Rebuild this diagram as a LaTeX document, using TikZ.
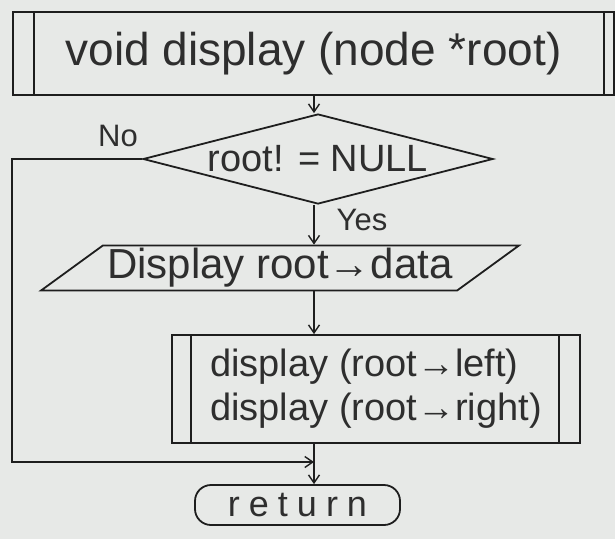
\documentclass[tikz,border=0pt]{standalone}
\usepackage{fontspec}
\setmainfont{Liberation Sans}
\usetikzlibrary{shapes.geometric,arrows.meta}
\definecolor{paper}{HTML}{E7E9E7}
\definecolor{ink}{HTML}{1E1E1E}
\definecolor{pencil}{HTML}{2E2E2E}
\begin{document}
\begin{tikzpicture}[x=1pt,y=-1pt,
  line width=1.8pt,
  every node/.style={text=pencil},
  flow/.style={draw=ink, line width=1.8pt},
  arr/.style={draw=ink, line width=1.6pt, -{Straight Barb[length=8pt,width=11pt,line width=1.4pt]}},
  procbox/.style={flow, rectangle, inner sep=0pt},
  decision/.style={flow, diamond, aspect=3.9, inner sep=0pt, minimum width=350, minimum height=90},
  iobox/.style={flow, trapezium, trapezium left angle=33, trapezium right angle=147,
      trapezium stretches=true, inner sep=0pt, minimum width=480, minimum height=45},
  term/.style={flow, rectangle, rounded corners=16pt, inner sep=0pt, minimum width=205, minimum height=40},
  lbl/.style={font=\fontsize{31}{36}\selectfont}
]
\useasboundingbox[fill=paper] (0,0) rectangle (615,539);

% top predefined process
\node[procbox, minimum width=601, minimum height=83, font=\fontsize{46}{52}\selectfont]
  (top) at (313.5,53.5) {void display (node *root)};
\draw[flow] ([xshift=22pt]top.north west) -- ([xshift=22pt]top.south west);
\draw[flow] ([xshift=-11pt]top.north east) -- ([xshift=-11pt]top.south east);

% decision
\node[decision, font=\fontsize{38}{42}\selectfont] (dia) at (318,159) {root! = NULL};

% input/output
\node[iobox, font=\fontsize{42}{46}\selectfont] (io) at (280,268) {Display root→data};

% second predefined process
\node[procbox, minimum width=408, minimum height=108, align=left,
      font=\fontsize{38}{44}\selectfont] (calls) at (376,389)
  {display (root→left)\\display (root→right)};
\draw[flow] ([xshift=20pt]calls.north west) -- ([xshift=20pt]calls.south west);
\draw[flow] ([xshift=-22pt]calls.north east) -- ([xshift=-22pt]calls.south east);

% terminator
\node[term, font=\fontsize{36}{40}\selectfont\addfontfeature{LetterSpace=25}] (ret) at (297.5,505) {return};

% helper coordinates
\coordinate (spine) at (314,0);
\coordinate (join) at (314,462);

% connectors
\draw[arr] (top.south -| spine) -- (dia.north -| spine);
\draw[arr] (dia.south -| spine) -- (io.north -| spine);
\draw[arr] (io.south -| spine) -- (calls.north -| spine);
\draw[flow] (calls.south -| spine) -- (join);
\draw[arr] (join) -- (ret.north -| spine);
\draw[arr] (dia.west) -- (dia.west -| top.west) |- (join);

% labels
\node[lbl] (no) at (118,136) {No};
\node[lbl] (yes) at (362,220) {Yes};
\end{tikzpicture}
\end{document}
